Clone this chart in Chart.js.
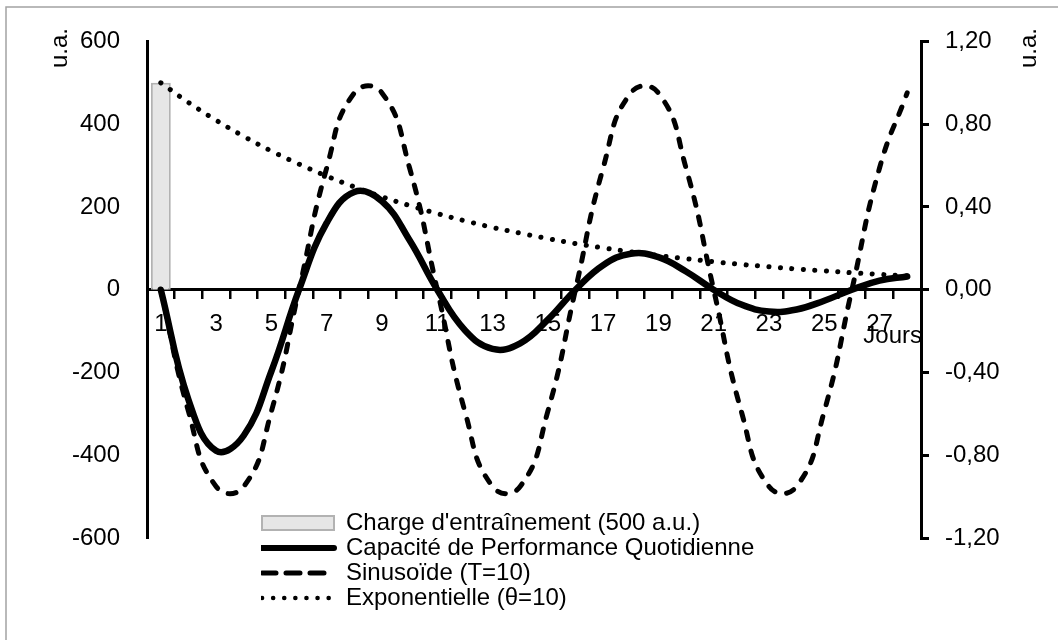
<!DOCTYPE html>
<html lang="fr">
<head>
<meta charset="utf-8">
<title>Capacité de performance quotidienne</title>
<script src="https://cdn.jsdelivr.net/npm/chart.js@4.4.1/dist/chart.umd.min.js"></script>
<style>
  html, body { margin: 0; padding: 0; background: #fff; }
  canvas { display: block; }
</style>
</head>
<body>
<canvas id="graphique" width="1058" height="640"></canvas>
<script>
// Jours du cycle
const jours = [1, 2, 3, 4, 5, 6, 7, 8, 9, 10, 11, 12, 13, 14, 15, 16, 17, 18, 19, 20, 21, 22, 23, 24, 25, 26, 27, 28];

// Charge d'entraînement : une seule séance de 500 u.a. au jour 1
const charge = [500, null, null, null, null, null, null, null, null, null, null, null, null, null,
  null, null, null, null, null, null, null, null, null, null, null, null, null, null];

// Capacité de performance quotidienne (u.a., axe de gauche)
const capacite = [0, -265.9, -389.3, -352.3, -197.0, 0, 161.3, 236.2, 213.7, 119.5,
  0, -97.8, -143.2, -129.6, -72.5, 0, 59.3, 86.9, 78.6, 44.0,
  0, -36.0, -52.7, -47.7, -26.7, 0, 21.8, 32.0];

// Sinusoïde de période 10 jours (axe de droite)
const sinusoide = [0, -0.588, -0.951, -0.951, -0.588, 0, 0.588, 0.951, 0.951, 0.588,
  0, -0.588, -0.951, -0.951, -0.588, 0, 0.588, 0.951, 0.951, 0.588,
  0, -0.588, -0.951, -0.951, -0.588, 0, 0.588, 0.951];

// Décroissance exponentielle, θ = 10 jours (axe de droite)
const exponentielle = [1, 0.905, 0.819, 0.741, 0.670, 0.607, 0.549, 0.497, 0.449, 0.407,
  0.368, 0.333, 0.301, 0.273, 0.247, 0.223, 0.202, 0.183, 0.165, 0.150,
  0.135, 0.122, 0.111, 0.100, 0.091, 0.082, 0.074, 0.067];

// Graduations des deux axes verticaux
const graduationsGauche = [-600, -400, -200, 0, 200, 400, 600];
const graduationsDroite = [-1.2, -0.8, -0.4, 0, 0.4, 0.8, 1.2];

const police = '"Liberation Sans", Arial, Helvetica, sans-serif';
Chart.defaults.font.family = police;
Chart.defaults.font.size = 24;
Chart.defaults.color = '#000';

// Format français : 0,40 au lieu de 0.40
function virgule(v) {
  const x = Math.abs(v) < 1e-9 ? 0 : v;
  return x.toFixed(2).replace('.', ',');
}

// Style des symboles de la légende (un peu différent des traits du graphique)
const styleLegende = [
  { pointStyle: 'rect', lineWidth: 2, lineDash: [], lineCap: 'butt' },
  { pointStyle: 'line', lineWidth: 6, lineDash: [], lineCap: 'round' },
  { pointStyle: 'line', lineWidth: 5, lineDash: [14, 10], lineCap: 'round' },
  { pointStyle: 'line', lineWidth: 4.5, lineDash: [0.1, 11], lineCap: 'round' }
];

// Cadre, titres d'axes et placement de la légende
const habillage = {
  id: 'habillage',
  beforeDraw(chart) {
    const ctx = chart.ctx;
    ctx.save();
    ctx.strokeStyle = '#a3a3a3';
    ctx.lineWidth = 1.5;
    ctx.strokeRect(6, 7, 1100, 700);
    ctx.restore();
  },
  afterLayout(chart) {
    const leg = chart.legend;
    if (!leg) return;
    leg.left = 261;
    leg.top = 510;
    leg.right = chart.width;
    leg.bottom = chart.height;
    leg.width = leg.right - leg.left;
    leg.height = leg.bottom - leg.top;
  },
  afterDraw(chart) {
    const ctx = chart.ctx;
    ctx.save();
    ctx.font = '24px ' + police;
    ctx.fillStyle = '#000';
    ctx.textBaseline = 'alphabetic';
    // "u.a." verticaux, lus de bas en haut, au-dessus de chaque axe
    [67, chart.width - 22].forEach(x => {
      ctx.save();
      ctx.translate(x, 28);
      ctx.rotate(-Math.PI / 2);
      ctx.textAlign = 'right';
      ctx.fillText('u.a.', 0, 0);
      ctx.restore();
    });
    ctx.textAlign = 'right';
    ctx.fillText('Jours', chart.chartArea.right + 1, 343);
    ctx.restore();
  }
};

const ctx = document.getElementById('graphique').getContext('2d');
new Chart(ctx, {
  type: 'bar',
  data: {
    labels: jours,
    datasets: [
      {
        type: 'bar',
        label: "Charge d'entraînement (500 a.u.)",
        data: charge,
        yAxisID: 'y',
        backgroundColor: '#e6e6e6',
        borderColor: '#b2b2b2',
        borderWidth: 2,
        barPercentage: 0.72,
        categoryPercentage: 1,
        order: 1
      },
      {
        type: 'line',
        label: 'Capacité de Performance Quotidienne',
        data: capacite,
        yAxisID: 'y',
        borderColor: '#000',
        backgroundColor: '#000',
        borderWidth: 6.5,
        borderCapStyle: 'round',
        pointRadius: 0,
        tension: 0.42,
        order: 0
      },
      {
        type: 'line',
        label: 'Sinusoïde (T=10)',
        data: sinusoide,
        yAxisID: 'y1',
        borderColor: '#000',
        backgroundColor: '#000',
        borderWidth: 5,
        borderDash: [8, 12],
        borderCapStyle: 'round',
        pointRadius: 0,
        tension: 0.5,
        order: 0
      },
      {
        type: 'line',
        label: 'Exponentielle (θ=10)',
        data: exponentielle,
        yAxisID: 'y1',
        borderColor: '#000',
        backgroundColor: '#000',
        borderWidth: 5,
        borderDash: [0.1, 11.4],
        borderCapStyle: 'round',
        pointRadius: 0,
        tension: 0.4,
        order: 0
      }
    ]
  },
  options: {
    responsive: false,
    animation: false,
    layout: { padding: { left: 47, right: 57, top: 35, bottom: 102 } },
    plugins: {
      tooltip: { enabled: false },
      legend: {
        position: 'chartArea',
        align: 'start',
        labels: {
          usePointStyle: true,
          pointStyleWidth: 72,
          boxHeight: 14,
          padding: 1,
          font: { size: 24 },
          generateLabels(chart) {
            return chart.data.datasets.map((ds, i) => ({
              text: ds.label,
              fillStyle: ds.backgroundColor,
              strokeStyle: ds.borderColor,
              fontColor: '#000',
              hidden: false,
              datasetIndex: i,
              ...styleLegende[i]
            }));
          }
        }
      }
    },
    scales: {
      x: {
        type: 'category',
        position: { y: 0 },
        offset: true,
        grid: {
          display: true,
          offset: true,
          drawOnChartArea: false,
          drawTicks: true,
          tickLength: 8,
          lineWidth: 2.5,
          color: '#000'
        },
        border: { display: true, color: '#000', width: 3 },
        ticks: {
          autoSkip: false,
          maxRotation: 0,
          minRotation: 0,
          padding: 12,
          font: { size: 24 },
          callback: (val, i) => (i % 2 === 0 ? String(jours[i]) : '')
        }
      },
      y: {
        type: 'linear',
        position: 'left',
        min: -600,
        max: 600,
        afterBuildTicks: scale => { scale.ticks = graduationsGauche.map(v => ({ value: v })); },
        afterFit: scale => { scale.width = 100; },
        grid: { display: false, drawTicks: false },
        border: { display: true, color: '#000', width: 3 },
        ticks: { padding: 27, font: { size: 24 } }
      },
      y1: {
        type: 'linear',
        position: 'right',
        min: -1.2,
        max: 1.2,
        afterBuildTicks: scale => { scale.ticks = graduationsDroite.map(v => ({ value: v })); },
        afterFit: scale => { scale.width = 80; },
        grid: {
          display: true,
          drawOnChartArea: false,
          drawTicks: true,
          tickLength: 8,
          lineWidth: 3,
          color: '#000'
        },
        border: { display: true, color: '#000', width: 3 },
        ticks: { padding: 16, font: { size: 24 }, callback: v => virgule(v) }
      }
    }
  },
  plugins: [habillage]
});
</script>
</body>
</html>
